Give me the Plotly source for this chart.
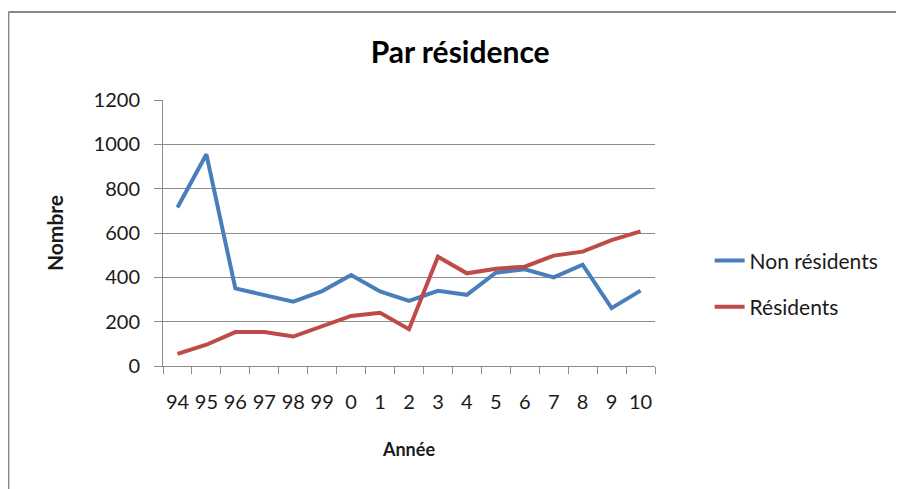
import plotly.graph_objects as go

annees = ['94', '95', '96', '97', '98', '99', '0', '1', '2', '3', '4',
          '5', '6', '7', '8', '9', '10']
non_residents = [715, 955, 350, 320, 290, 338, 410, 336, 294, 339, 321,
                 421, 436, 400, 457, 261, 340]
residents = [55, 96, 153, 153, 133, 178, 226, 240, 166, 493, 418,
             439, 448, 498, 516, 568, 607]

FONT = 'Lato'
GRID = '#8c8c8c'


def main():
    fig = go.Figure()
    fig.add_trace(go.Scatter(x=annees, y=non_residents, mode='lines',
                             name='Non résidents', legendgroup='a',
                             line=dict(color='#4a7ebb', width=4)))
    fig.add_trace(go.Scatter(x=annees, y=residents, mode='lines',
                             name='Résidents', legendgroup='b',
                             line=dict(color='#be4b48', width=4)))

    # page body has an 8px margin, so the figure is a bit smaller than the window
    fig.update_layout(
        width=896, height=481,
        margin=dict(l=155, r=249, t=92, b=123),
        paper_bgcolor='white', plot_bgcolor='white',
        font=dict(family=FONT, size=20, color='#1a1a1a'),
        title=dict(text='<b>Par résidence</b>', x=0.604, xref='paper',
                   y=0.9085, yref='container', xanchor='center', yanchor='middle',
                   font=dict(family=FONT, size=30, color='#000')),
        showlegend=True,
        legend=dict(x=1.111, y=0.309, xanchor='left', yanchor='middle',
                    font=dict(family=FONT, size=21, color='#1a1a1a'),
                    tracegroupgap=16, bgcolor='rgba(0,0,0,0)'),
        xaxis=dict(type='category', range=[-0.5, len(annees) - 0.5],
                   tickangle=0, showgrid=False,
                   showline=True, linecolor=GRID, linewidth=1,
                   ticks='outside', tickson='boundaries', ticklen=7,
                   tickcolor=GRID, ticklabelstandoff=18,
                   title=dict(text='<b>Année</b>', standoff=31,
                              font=dict(family=FONT, size=18))),
        yaxis=dict(range=[0, 1200], dtick=200, showgrid=True,
                   gridcolor=GRID, gridwidth=1, zeroline=False,
                   showline=True, linecolor=GRID, linewidth=1,
                   ticks='outside', ticklen=8, tickcolor=GRID,
                   ticklabelstandoff=10,
                   title=dict(text='<b>Nombre</b>', standoff=24,
                              font=dict(family=FONT, size=21))),
        shapes=[
            dict(type='line', xref='paper', yref='paper',
                 x0=-0.3142, x1=1.51, y0=1.3305, y1=1.3305,
                 line=dict(color='#888888', width=2)),
            dict(type='line', xref='paper', yref='paper',
                 x0=-0.3142, x1=-0.3142, y0=1.3305, y1=-0.47,
                 line=dict(color='#888888', width=2)),
        ],
    )
    fig.write_html('out.html')


if __name__ == '__main__':
    main()
